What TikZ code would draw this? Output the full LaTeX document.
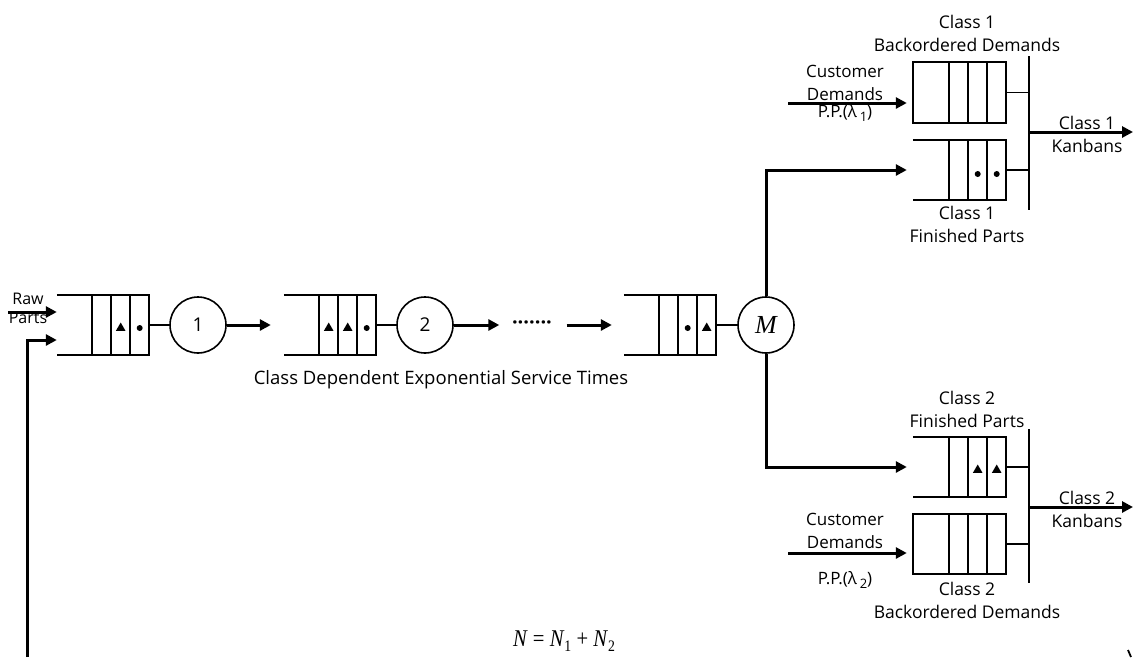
\documentclass[tikz,border=0pt]{standalone}
\usepackage{fontspec}
\setmainfont{Open Sans}
\newfontfamily\formulafont{Liberation Serif}
\usetikzlibrary{arrows.meta,shapes.geometric}

% queue drawn as an open buffer (no left wall) with three cells at the server end
\newcommand\openqueue[1]{%
  \draw[thin line] (#1.north west) -- (#1.north east) -- (#1.south east) -- (#1.south west);
  \foreach \d in {19,38,57}
    \draw[thin line] ([xshift=-\d pt]#1.north east) -- ([xshift=-\d pt]#1.south east);
}
% closed buffer (demand queue)
\newcommand\closedqueue[1]{%
  \draw[thin line] (#1.north west) rectangle (#1.south east);
  \foreach \d in {19,38,57}
    \draw[thin line] ([xshift=-\d pt]#1.north east) -- ([xshift=-\d pt]#1.south east);
}

\begin{document}
\begin{tikzpicture}[x=1pt,y=-1pt,
  thin line/.style={line width=1.6pt},
  flow/.style={line width=3pt,-{Triangle[length=11pt,width=11pt]}},
  queuebox/.style={minimum width=92pt,minimum height=60pt,inner sep=0pt,draw=none},
  server/.style={circle,draw,line width=1.6pt,minimum size=56pt,inner sep=0pt,
                 font=\fontsize{19}{20}\selectfont},
  lbl/.style={font=\fontsize{17.5}{23}\selectfont,align=center,inner sep=0pt},
  demand lbl/.style={font=\fontsize{17}{22.5}\selectfont,align=center,inner sep=0pt},
  small lbl/.style={font=\fontsize{16}{19}\selectfont,align=center,inner sep=0pt},
  tri/.style={regular polygon,regular polygon sides=3,fill,inner sep=0pt,minimum size=11pt},
  dot/.style={circle,fill,inner sep=0pt,minimum size=6pt}]
\useasboundingbox (0,0) rectangle (1133,657);

% ---- main line: queues and servers ----
\node[queuebox] (q1) at (103,325) {};
\node[queuebox] (q2) at (330,325) {};
\node[queuebox] (q3) at (670,325) {};
\openqueue{q1}
\openqueue{q2}
\openqueue{q3}

\node[server] (s1) at (198,325) {1};
\node[server] (s2) at (425,325) {2};
\node[server] (sM) at (766,325) {\formulafont\itshape\fontsize{26}{26}\selectfont M};

% parts waiting in the buffers
\node[tri] at ([xshift=-28.5pt,yshift=-3pt]q1.east) {};
\node[dot] at ([xshift=-9.5pt,yshift=-3pt]q1.east) {};
\node[tri] at ([xshift=-47.5pt,yshift=-3pt]q2.east) {};
\node[tri] at ([xshift=-28.5pt,yshift=-3pt]q2.east) {};
\node[dot] at ([xshift=-9.5pt,yshift=-3pt]q2.east) {};
\node[dot] at ([xshift=-28.5pt,yshift=-3pt]q3.east) {};
\node[tri] at ([xshift=-9.5pt,yshift=-3pt]q3.east) {};

\node[inner sep=0pt,minimum width=41pt,font=\fontsize{20}{20}\selectfont\bfseries] (dots) at (532,325) {·······};

\draw[thin line] (q1.east) -- (s1.west);
\draw[thin line] (q2.east) -- (s2.west);
\draw[thin line] (q3.east) -- (sM.west);
\draw[flow,shorten >=13pt] (s1.east) -- (q2.west);
\draw[flow] (s2.east) -- ([xshift=-12pt]dots.west);
\draw[flow,shorten >=12pt] ([xshift=14pt]dots.east) -- (q3.west);

% raw parts and returning kanbans
\coordinate (rawin) at (8,312);
\coordinate (fbin) at (27,657);
\node[small lbl] (rawlbl) at (28,308) {Raw\\Parts};
\draw[flow] (rawin) -- (rawin -| q1.west);
\draw[flow] (fbin) |- ([yshift=-15pt]q1.west);

\node[lbl,font=\fontsize{18.5}{23}\selectfont] (servlbl) at (441,380) {Class Dependent Exponential Service Times};

% ---- class 1 synchronisation ----
\node[queuebox,minimum width=93pt,minimum height=61pt] (b1) at (959.5,92.5) {};
\node[queuebox,minimum width=93pt] (f1) at (959.5,170) {};
\closedqueue{b1}
\openqueue{f1}
\node[dot] at ([xshift=-28.5pt,yshift=-4pt]f1.east) {};
\node[dot] at ([xshift=-9.5pt,yshift=-4pt]f1.east) {};

\coordinate (bar1top) at (1029,56);
\coordinate (bar1bot) at (1029,210);
\draw[thin line] (bar1top) -- (bar1bot);
\draw[thin line] (b1.east) -- (b1.east -| bar1top);
\draw[thin line] (f1.east) -- (f1.east -| bar1top);
\coordinate (k1s) at (1029,132);
\coordinate (k1e) at (1133,132);
\draw[flow] (k1s) -- (k1e);

\node[demand lbl] at (845,83) {Customer\\Demands};
\node[demand lbl] at (845,113) {P.P.(λ\,\raisebox{-4pt}{\fontsize{13}{13}\selectfont 1})};
\coordinate (d1) at (788,103);
\draw[flow,shorten >=6pt] (d1) -- (d1 -| b1.west);
\draw[flow,shorten >=6pt] (sM.north) |- (f1.west);

\node[lbl] at (967,33) {Class 1\\Backordered Demands};
\node[lbl] at (1087,134) {Class 1\\Kanbans};
\node[lbl] at (967,224) {Class 1\\Finished Parts};

% ---- class 2 synchronisation ----
\node[queuebox,minimum width=93pt] (f2) at (959.5,467) {};
\node[queuebox,minimum width=93pt] (b2) at (959.5,544) {};
\openqueue{f2}
\closedqueue{b2}
\node[tri] at ([xshift=-28.5pt,yshift=-3pt]f2.east) {};
\node[tri] at ([xshift=-9.5pt,yshift=-3pt]f2.east) {};

\coordinate (bar2top) at (1029,429);
\coordinate (bar2bot) at (1029,583);
\draw[thin line] (bar2top) -- (bar2bot);
\draw[thin line] (f2.east) -- (f2.east -| bar2top);
\draw[thin line] (b2.east) -- (b2.east -| bar2top);
\coordinate (k2s) at (1029,507);
\coordinate (k2e) at (1133,507);
\draw[flow] (k2s) -- (k2e);

\coordinate (d2) at (788,553);
\draw[flow,shorten >=6pt] (d2) -- (d2 -| b2.west);
\draw[flow,shorten >=6pt] (sM.south) |- (f2.west);

\node[lbl] at (967,409) {Class 2\\Finished Parts};
\node[demand lbl] at (845,531) {Customer\\Demands};
\node[demand lbl] at (845,580) {P.P.(λ\,\raisebox{-4pt}{\fontsize{13}{13}\selectfont 2})};
\node[lbl] at (1087,509) {Class 2\\Kanbans};
\node[lbl] at (967,600) {Class 2\\Backordered Demands};

% ---- population constraint ----
\node[inner sep=0pt,font=\formulafont\fontsize{24}{24}\selectfont] (pop) at (564,641)
  {\scalebox{0.86}[1]{\textit{N} = \textit{N}\raisebox{-5pt}{\fontsize{16}{16}\selectfont 1} + \textit{N}\raisebox{-5pt}{\fontsize{16}{16}\selectfont 2}}};

\coordinate (tickA) at (1128,650);
\coordinate (tickB) at (1131,657);
\draw[line width=1.8pt] (tickA) -- (tickB);
\end{tikzpicture}
\end{document}
